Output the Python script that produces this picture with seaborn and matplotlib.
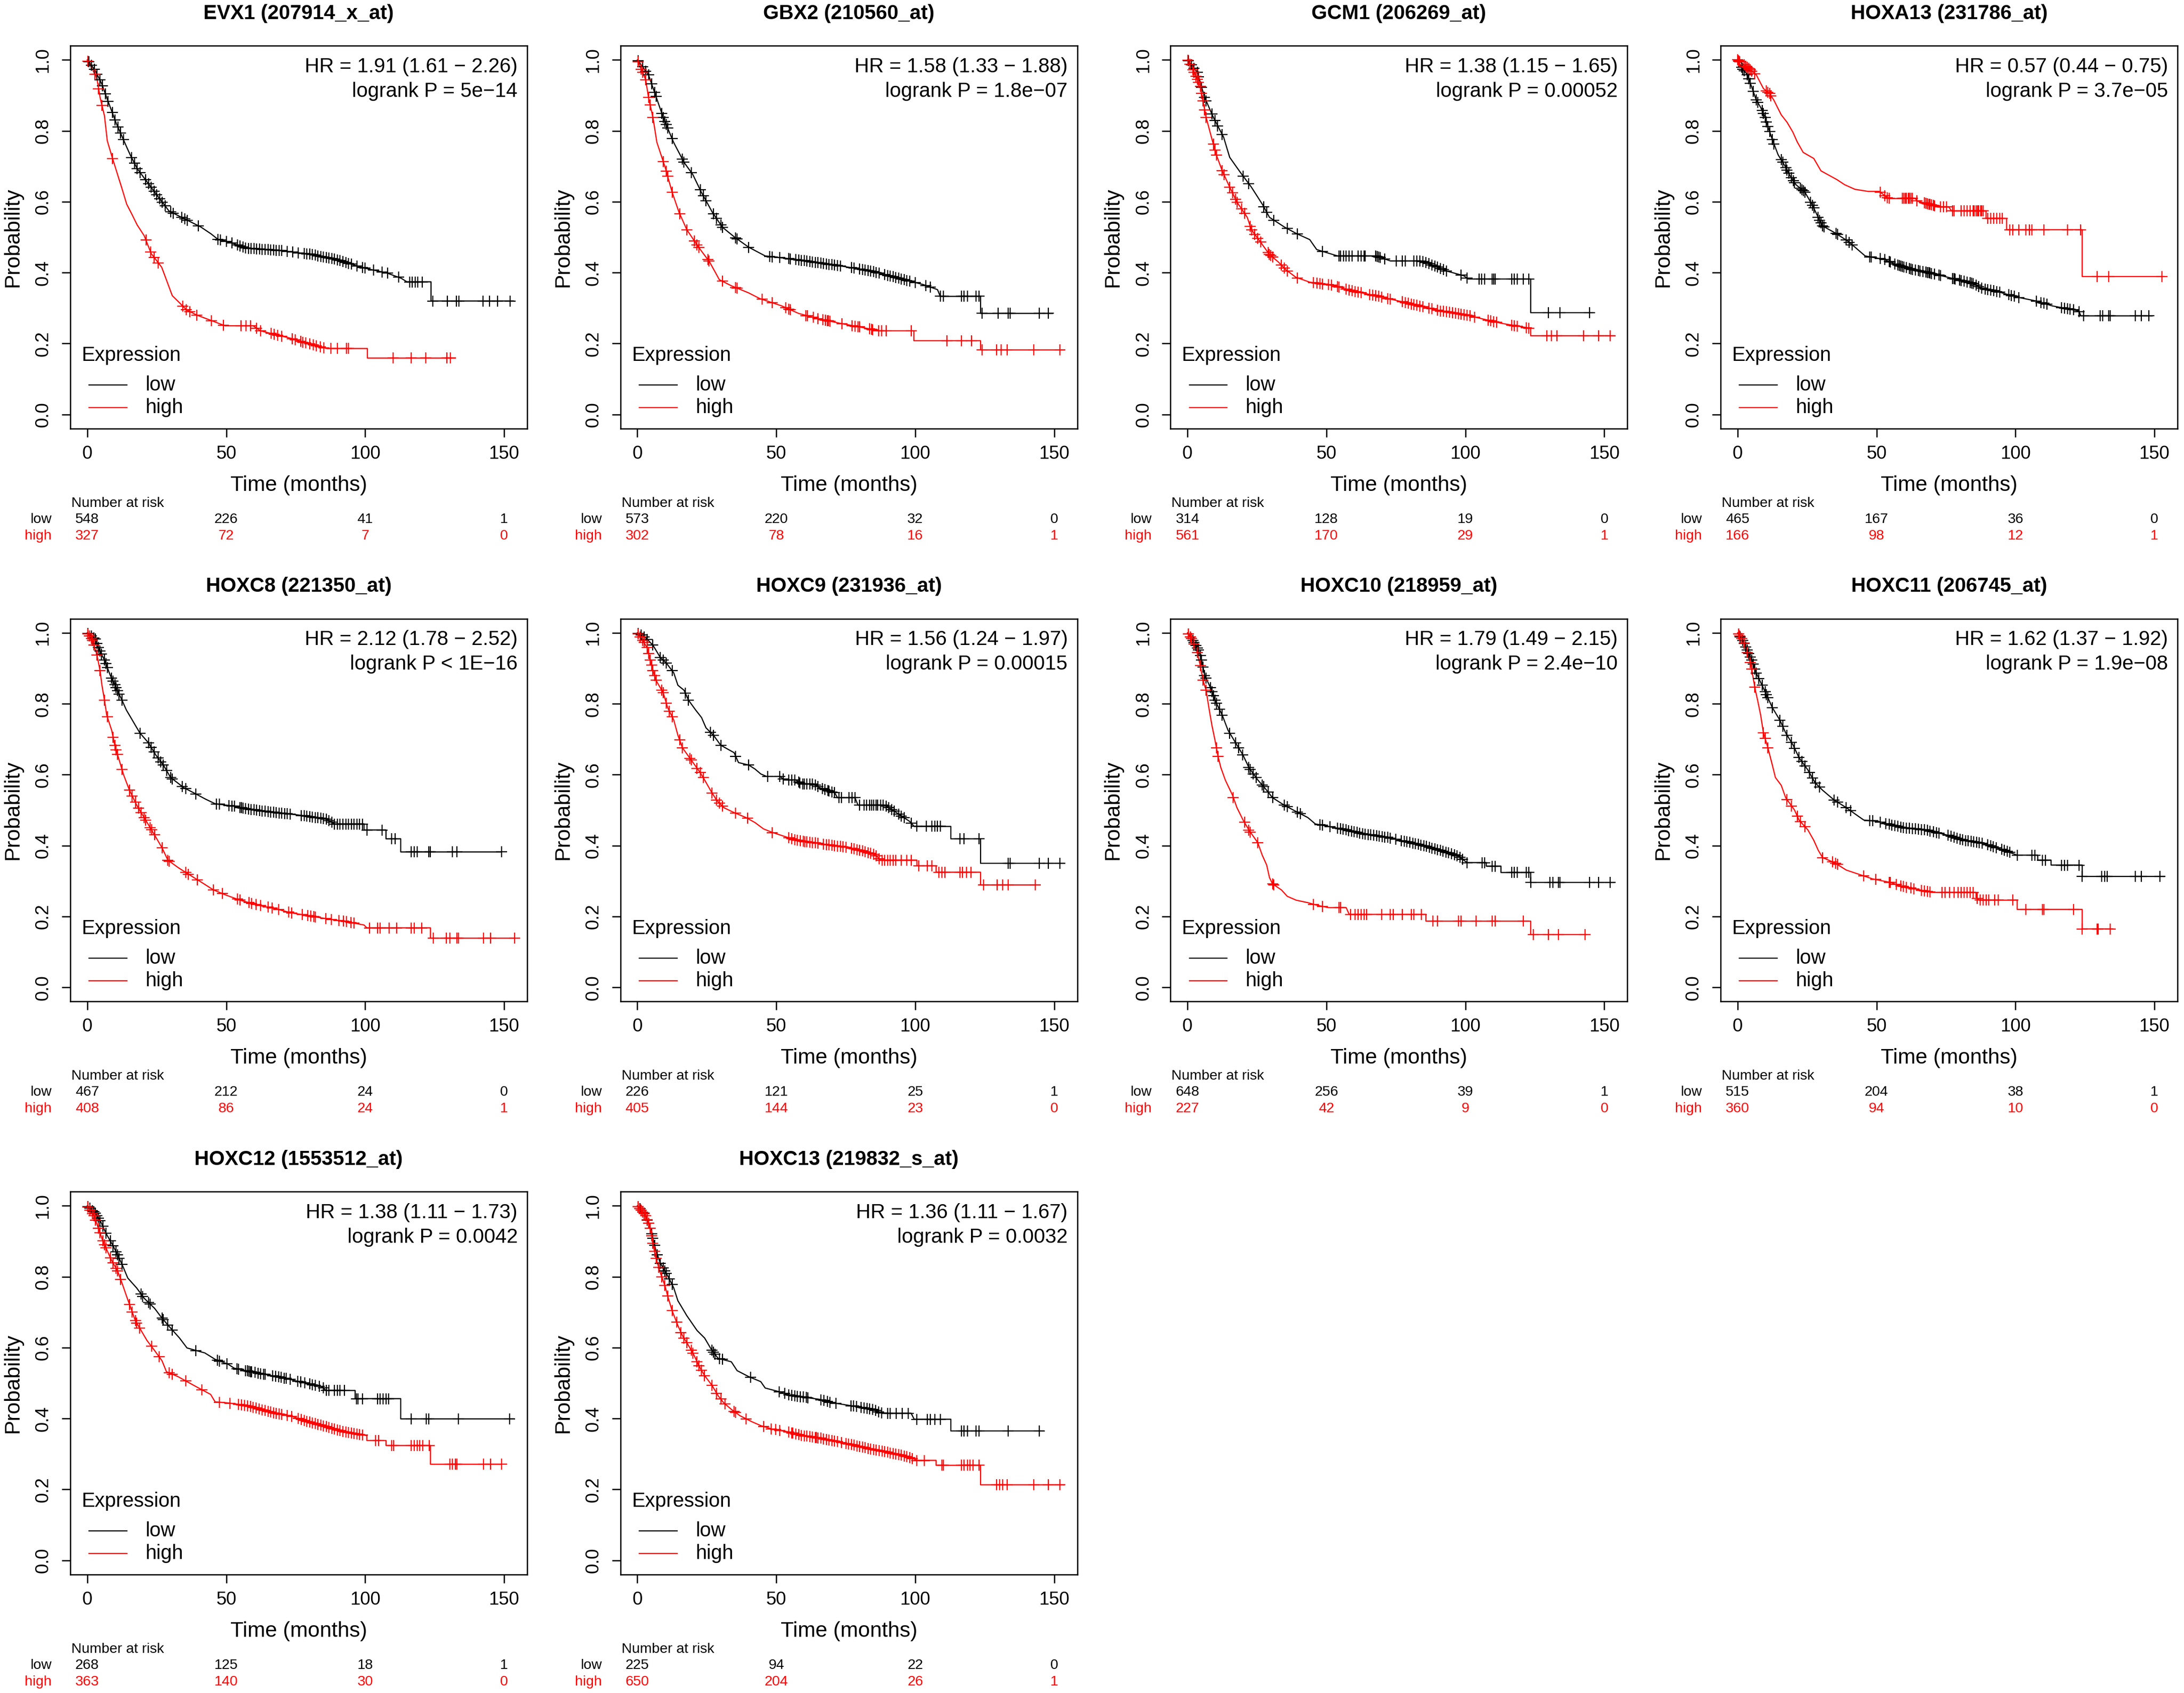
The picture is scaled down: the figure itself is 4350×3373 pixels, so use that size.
import numpy as np
import pandas as pd
import matplotlib
matplotlib.use('Agg')
import matplotlib.pyplot as plt
import seaborn as sns

# ---- panel labels ----
titles = ['EVX1 (207914_x_at)', 'GBX2 (210560_at)', 'GCM1 (206269_at)', 'HOXA13 (231786_at)',
          'HOXC8 (221350_at)', 'HOXC9 (231936_at)', 'HOXC10 (218959_at)', 'HOXC11 (206745_at)',
          'HOXC12 (1553512_at)', 'HOXC13 (219832_s_at)']
hr_texts = ['HR = 1.91 (1.61 \u2212 2.26)', 'HR = 1.58 (1.33 \u2212 1.88)', 'HR = 1.38 (1.15 \u2212 1.65)',
            'HR = 0.57 (0.44 \u2212 0.75)', 'HR = 2.12 (1.78 \u2212 2.52)', 'HR = 1.56 (1.24 \u2212 1.97)',
            'HR = 1.79 (1.49 \u2212 2.15)', 'HR = 1.62 (1.37 \u2212 1.92)', 'HR = 1.38 (1.11 \u2212 1.73)',
            'HR = 1.36 (1.11 \u2212 1.67)']
p_texts = ['logrank P = 5e\u221214', 'logrank P = 1.8e\u221207', 'logrank P = 0.00052',
           'logrank P = 3.7e\u221205', 'logrank P < 1E\u221216', 'logrank P = 0.00015',
           'logrank P = 2.4e\u221210', 'logrank P = 1.9e\u221208', 'logrank P = 0.0042',
           'logrank P = 0.0032']

risk_times = [0, 50, 100, 150]
risk_low = [[548, 226, 41, 1], [573, 220, 32, 0], [314, 128, 19, 0], [465, 167, 36, 0],
            [467, 212, 24, 0], [226, 121, 25, 1], [648, 256, 39, 1], [515, 204, 38, 1],
            [268, 125, 18, 1], [225, 94, 22, 0]]
risk_high = [[327, 72, 7, 0], [302, 78, 16, 1], [561, 170, 29, 1], [166, 98, 12, 1],
             [408, 86, 24, 1], [405, 144, 23, 0], [227, 42, 9, 0], [360, 94, 10, 0],
             [363, 140, 30, 0], [650, 204, 26, 1]]

# ---- survival curves (time in months, probability) and censoring times ----
evx1_low = [(0, 1), (2.8, .971), (5.3, .931), (6.6, .902), (8.5, .862), (10.4, .822), (12.9, .777),
            (15.4, .733), (18, .693), (21.8, .653), (25.6, .613), (29.4, .574), (34.4, .554),
            (40.8, .529), (44.6, .509), (47, .494), (52, .484), (57.2, .469), (69.9, .462),
            (80, .452), (88.9, .439), (99, .414), (107.8, .399), (113, .384), (115, .374),
            (123.7, .374), (123.7, .320), (153.4, .320)]
evx1_low_cens = [0.5, 1.5, 2.5, 3.5, 4.5, 5.5, 6.5, 7.5, 9, 10, 11, 12, 13, 16, 17, 18, 19, 21, 22, 23,
                 24, 25, 26, 27, 28, 30, 31, 34, 35, 36, 40, 47, 48, 50, 52, 54, 55, 56, 57, 58, 59,
                 60, 61, 62, 63, 64, 65, 66, 67, 68, 69, 70, 72, 74, 76, 78, 79, 80, 81, 82, 83, 84,
                 85, 86, 87, 88, 89, 90, 91, 92, 93, 94, 95, 97, 99, 100, 103, 106, 108, 112, 116,
                 117, 118, 119, 120.5, 124.3, 129.6, 132.8, 133.8, 142.4, 144.8, 147.7, 152.2]
evx1_high = [(0, 1), (3.4, .951), (4.7, .891), (6.2, .842), (7.2, .772), (9.1, .722), (12.3, .642),
             (14.2, .593), (16.1, .564), (18, .534), (20.5, .504), (23, .454), (26.8, .415),
             (28.7, .375), (30.6, .335), (33.2, .315), (35.7, .295), (39.5, .280), (44.6, .265),
             (49.6, .250), (59.7, .250), (62.3, .236), (67.3, .226), (73.7, .214), (77.5, .204),
             (82.5, .194), (86.3, .186), (100.8, .186), (100.8, .159), (132.5, .159)]
evx1_high_cens = [0.3, 2.8, 4.1, 5.3, 9.1, 21.1, 22.8, 24.1, 25.6, 34.4, 35.7, 36.9, 39.5, 44.6, 49,
                  55.3, 57.2, 58.7, 61, 62.3, 66.1, 67.3, 68.6, 69.9, 73.7, 74.9, 76.8, 77.5, 78.7,
                  80, 81.3, 82.5, 83.8, 85.1, 87.6, 90.1, 93.3, 93.9, 110, 116.5, 121.8, 129.4, 130.6]

gbx2_low = [(0, 1), (4, .958), (9.3, .838), (13, .768), (16.8, .711), (20, .676), (23, .627),
            (27, .570), (30.6, .528), (35, .500), (40, .472), (46, .447), (57, .437), (73, .419),
            (84, .405), (94, .384), (103, .366), (108, .352), (109, .333), (123.5, .333),
            (123.5, .285), (149.5, .285)]
gbx2_low_cens = [0.3, 1.9, 3.0, 4.0, 5.1, 6.2, 6.7, 8.8, 9.3, 9.9, 10.4, 10.9, 12.5, 16.2, 16.8, 19.4,
                 22.6, 23.7, 24.7, 27.4, 28.5, 30.0, 30.6, 35.4, 35.9, 40.1, 47.6, 48.6, 51.3, 54.5,
                 55.0, 57, 58, 59, 60, 61, 62, 63, 64, 65, 66, 67, 68, 69, 70, 71, 72, 73, 77, 78, 80,
                 81, 82, 83, 84, 85, 86, 87, 89, 90, 91, 92, 93, 94, 95, 96, 97, 98, 100, 103.8,
                 105.4, 109.1, 110.2, 116.6, 117.6, 118.7, 121.9, 122.9, 124, 129.8, 133.5, 134.1,
                 144.7, 147.9]
gbx2_high = [(0, 1), (3, .944), (4, .894), (5.6, .838), (7, .768), (10, .697), (12.5, .627),
             (15, .570), (17.8, .521), (22, .472), (26, .430), (29.5, .380), (33.8, .363),
             (40, .343), (44, .327), (52, .306), (58, .285), (64.5, .271), (73, .257), (80.5, .246),
             (87, .236), (99.5, .236), (99.5, .208), (123.5, .208), (123.5, .182), (153.7, .182)]
gbx2_high_cens = [0.3, 1.4, 1.9, 3.0, 4.0, 4.6, 5.6, 9.3, 10.4, 10.9, 12.5, 15.2, 17.8, 20.5, 21.5,
                  22.1, 25.3, 25.8, 30.6, 35.4, 35.9, 44.9, 48.6, 53.4, 54.5, 55, 60.7, 61.2, 63.3,
                  64.9, 66.7, 67.7, 68.3, 68.8, 69.3, 73.6, 77.3, 78.3, 79.4, 79.9, 83.6, 84.2, 84.7,
                  86.8, 87.9, 89.5, 98.5, 111.3, 116.6, 120.3, 124, 129.3, 130.9, 133, 142.6, 152.1]

gcm1_low = [(0, 1), (3.5, .965), (6.2, .894), (9.3, .838), (13, .782), (15.2, .725), (19, .683),
            (23, .641), (27, .592), (29.5, .556), (35, .528), (39, .511), (44, .493), (46.5, .465),
            (54, .447), (68, .447), (73, .433), (84, .433), (89, .419), (93, .405), (99.5, .391),
            (101, .382), (123.5, .382), (123.5, .287), (146, .287)]
gcm1_low_cens = [0.3, 1.4, 2.4, 3.5, 4.0, 5.1, 6.2, 6.7, 8.8, 9.9, 10.9, 12.5, 20, 22.1, 27.4, 28.5,
                 31.1, 35.9, 39.6, 48.6, 54.5, 55, 56.1, 57.1, 58.2, 59.2, 61.4, 62.4, 63.5, 64, 67.7,
                 68.3, 68.8, 69.3, 70.9, 75.2, 77.3, 78.3, 81.5, 82.6, 83.6, 84.7, 85.8, 86.8, 87.9,
                 89, 90, 91.1, 92.1, 93.2, 98.5, 100.6, 104.9, 105.9, 107, 109.6, 110.2, 110.7,
                 116.6, 117.6, 118.7, 120.8, 122.9, 129.8, 134.1, 144.7]
gcm1_high = [(0, 1), (2.4, .965), (4.6, .926), (5.6, .884), (6.7, .838), (9.1, .768), (10.4, .732),
             (12.5, .687), (15.2, .641), (17.8, .599), (21.5, .556), (23, .521), (26.3, .486),
             (29.5, .451), (32.7, .430), (35.4, .408), (39, .387), (44, .373), (53, .363),
             (59, .349), (67.7, .335), (76, .320), (83.6, .306), (91, .292), (99.5, .282),
             (107, .268), (113, .257), (123.5, .243), (123.5, .222), (153.7, .222)]
gcm1_high_cens = [0.1, 0.8, 1.9, 2.4, 3.0, 3.5, 4.0, 4.6, 5.1, 5.6, 6.2, 6.7, 9.3, 9.9, 10.4, 12.5,
                  13.1, 15.2, 16.2, 17.3, 17.8, 19.4, 20.5, 22.6, 23.1, 24.2, 25.3, 26.3, 29, 29.5,
                  30, 30.6, 33.8, 34.8, 35.9, 39.6, 45.4, 46.5, 47.6, 48.6, 50.7, 51.8, 53.9, 54.5,
                  57.1, 58.2, 59.2, 60.3, 61.4, 62.4, 65.6, 66.7, 67.7, 68.8, 69.8, 72, 73, 77.3, 78.3,
                  79.4, 80.5, 81.5, 82.6, 83.6, 84.7, 86.8, 87.9, 90, 91.1, 92.1, 93.2, 94.3, 95.3,
                  96.4, 97.5, 98.5, 99.6, 100.6, 101.7, 103.3, 108.1, 109.1, 110.2, 111.3, 116.6,
                  117.6, 118.7, 121.9, 122.9, 129.3, 130.9, 133, 142.6, 147.9, 152.1]

hoxa13_low = [(0, 1), (1.4, .979), (3.5, .958), (5.1, .923), (6.7, .887), (8.3, .866), (9.9, .838),
              (11, .810), (12.5, .775), (14.6, .732), (16.8, .704), (18.9, .673), (21, .648),
              (24.2, .627), (26.8, .592), (29, .556), (30.5, .532), (35.3, .511), (39.6, .489),
              (42.2, .472), (45.9, .447), (52.8, .437), (57, .423), (63.4, .408), (69.8, .398),
              (77.2, .384), (84.6, .370), (87.8, .356), (94.2, .345), (100.5, .331), (107.4, .320),
              (113.3, .306), (122.8, .292), (123.5, .278), (149.3, .278)]
hoxa13_low_cens = [0.3, 1.4, 1.9, 2.4, 3.5, 4.0, 4.6, 5.6, 6.7, 7.2, 8.8, 9.3, 9.9, 10.4, 10.9, 11.5,
                   12.5, 13.1, 15.7, 16.2, 17.3, 17.8, 18.4, 19.4, 20, 20.5, 22.6, 23.1, 23.7, 24.2,
                   26.3, 26.9, 27.4, 29, 29.5, 30, 30.6, 31.1, 35.4, 35.9, 39.1, 40.1, 41.2, 47.6,
                   48.1, 51.3, 52.9, 54.5, 55, 56.6, 57.6, 58.2, 58.7, 59.2, 59.8, 60.8, 61.9, 62.4,
                   62.9, 64, 65, 65.6, 66.7, 67.7, 68.3, 68.8, 69.3, 69.8, 70.9, 72.5, 73, 77.3, 77.8,
                   78.3, 79.9, 80.5, 81.5, 82.6, 83.6, 84.2, 84.7, 85.8, 86.8, 87.9, 89, 90, 91.1,
                   92.1, 93.2, 94.3, 97.5, 98.5, 99.6, 101.2, 107.5, 109.1, 110.2, 111.3, 116.6,
                   117.6, 118.7, 119.7, 120.8, 122.9, 124.5, 130.4, 131.4, 133.5, 134.1, 143.1,
                   145.2, 147.9]
hoxa13_high = [(0, 1), (3.5, .979), (6.7, .958), (9.3, .919), (11.5, .905), (13, .887), (15.7, .845),
               (17.8, .824), (19.9, .796), (21.5, .768), (23.6, .739), (27.4, .722), (30, .687),
               (35.8, .662), (38.5, .648), (42.2, .635), (47, .629), (51, .629), (52.8, .618),
               (54.4, .609), (64, .609), (64.5, .602), (69, .593), (72, .585), (76, .585),
               (77, .574), (89.4, .574), (89.4, .553), (96.8, .553), (96.8, .521), (124, .521),
               (124, .389), (153.6, .389)]
hoxa13_high_cens = [0, 0.3, 0.8, 2.4, 3.0, 3.5, 4.0, 4.6, 5.1, 6.2, 10.4, 10.9, 11.5, 12, 51.3, 52.9,
                    53.9, 54.5, 59.2, 59.8, 60.3, 60.8, 61.4, 61.9, 62.4, 62.9, 64.5, 67.2, 67.7,
                    68.3, 68.8, 69.3, 69.8, 70.4, 70.9, 73, 74.1, 75.2, 77.3, 77.8, 80.5, 81.5, 82.6,
                    83.6, 84.7, 85.2, 85.8, 86.3, 86.8, 87.4, 87.9, 88.4, 90, 91.1, 92.1, 93.2, 94.3,
                    95.3, 98, 99, 101.2, 103.8, 104.9, 105.9, 110.2, 118.7, 123.5, 129.3, 133.5,
                    152.7]

hoxc8_low = [(0, 1), (3, .982), (4, .958), (6.2, .923), (8.3, .880), (10.4, .845), (12.5, .810),
             (14.1, .782), (16.2, .754), (18.9, .718), (22, .690), (24.7, .655), (27.4, .627),
             (30, .592), (34.8, .563), (39, .546), (42.3, .532), (46, .518), (52.9, .511),
             (57, .504), (67.7, .493), (76.2, .486), (85.8, .475), (89, .461), (99.6, .461),
             (99.6, .444), (107.5, .444), (107.5, .419), (112.8, .419), (112.8, .382), (149, .382)]
hoxc8_low_cens = [0.3, 1.4, 2.4, 3.0, 3.5, 4.0, 4.6, 5.1, 6.2, 6.7, 7.2, 8.8, 9.3, 9.9, 10.4, 10.9,
                  11.5, 12.5, 19, 22, 23, 24, 25.5, 26.5, 27.4, 28.5, 30, 30.6, 34.2, 35.4, 39.1,
                  46.5, 47.6, 51, 52, 53, 55, 55.5, 56, 57, 58, 59, 60, 61, 62, 63, 64, 65, 66, 67, 68,
                  69, 70, 71, 72, 73, 77, 78, 79, 80, 81, 82, 83, 84, 85, 86, 87, 88, 89, 90, 91, 92,
                  93, 94, 95, 96, 97, 98, 99, 100.6, 106, 109.6, 110.7, 116.6, 117.6, 118.7, 122.9,
                  123.5, 131.4, 133, 149]
hoxc8_high = [(0, 1), (1.9, .979), (3.5, .937), (4.6, .894), (5.3, .852), (6.2, .810), (7, .768),
              (8.8, .725), (9.9, .683), (11.5, .641), (13.1, .599), (15.2, .556), (17.8, .514),
              (21, .472), (24.2, .430), (26.9, .394), (29, .359), (32.7, .338), (36.9, .317),
              (41.2, .296), (45.4, .275), (49.7, .261), (55, .246), (61.4, .232), (67.7, .222),
              (73, .211), (80.5, .201), (85.8, .194), (92, .187), (99.6, .176), (100.6, .168),
              (123.5, .168), (123.5, .139), (153.7, .139)]
hoxc8_high_cens = [0.3, 0.8, 1.4, 1.9, 2.4, 3.5, 4.6, 6.2, 7.2, 9.3, 9.9, 10.4, 10.9, 12.5, 15.2,
                   16.2, 17.3, 18.4, 19.4, 20.5, 21, 22.6, 23.1, 24.2, 26.9, 29, 29.5, 35.4, 36.4,
                   39.6, 45.4, 48.6, 54, 55, 58.2, 59.2, 60.8, 62.4, 65, 66.5, 68.8, 72.5, 73.5, 77.3,
                   79.4, 80.5, 81.5, 82.1, 85.8, 87.9, 90.5, 92.1, 93.2, 94.8, 96, 101.5, 104.4,
                   105.4, 108.6, 111.3, 116.6, 117.6, 120.3, 124.5, 129.3, 130.4, 133, 133.5, 142.6,
                   145.2, 153.7]

hoxc9_low = [(0, 1), (3, .986), (5.6, .965), (8.3, .930), (10.4, .915), (13.1, .887), (14.6, .852),
             (16.8, .838), (18.4, .810), (21, .782), (23.1, .761), (24.7, .732), (27.4, .711),
             (30, .683), (34.8, .662), (36.4, .634), (40.1, .627), (42.3, .616), (44.4, .602),
             (46.5, .595), (51.3, .595), (52.9, .585), (57, .585), (59, .574), (63.5, .574),
             (65.6, .563), (71, .549), (72, .535), (78.3, .535), (79.4, .514), (89, .514),
             (91, .504), (93.2, .493), (95.3, .482), (98, .468), (99.6, .454), (112.8, .454),
             (112.8, .419), (123.5, .419), (123.5, .350), (153.7, .350)]
hoxc9_low_cens = [0.3, 1.4, 2.4, 3.5, 5.6, 8.3, 9.3, 10.4, 12.5, 17.3, 18.4, 26.3, 27.4, 30, 35.4,
                  40.1, 46.8, 51.3, 52.4, 54.5, 55.5, 56.6, 58, 58.5, 59.5, 60, 61, 62, 63, 64, 65,
                  66.5, 67.5, 68.5, 69, 70, 71, 72.5, 73.5, 76.2, 77.3, 78.3, 79.9, 81.5, 82.5, 83.5,
                  84.2, 85, 86, 86.5, 87.5, 88.5, 89.5, 90.5, 91.5, 92.5, 94, 95, 96, 98.5, 100.6,
                  104, 106, 107, 108, 109, 116, 117.6, 122.9, 133.5, 134.1, 144.7, 147.9, 152.1]
hoxc9_high = [(0, 1), (1.9, .979), (3.5, .958), (4.6, .923), (5.6, .894), (6.7, .866), (9.3, .831),
              (10.9, .789), (13.1, .754), (14.6, .711), (16.2, .676), (19.4, .641), (22.6, .606),
              (24.2, .585), (26.3, .556), (28.5, .528), (31.1, .507), (34.8, .493), (39.1, .479),
              (42.3, .465), (45.4, .447), (48.6, .437), (52.9, .426), (57.1, .415), (63.5, .408),
              (69.8, .401), (76.2, .394), (81.5, .384), (85.8, .373), (87.4, .359), (100.6, .359),
              (100.6, .343), (107.5, .343), (107.5, .325), (123.5, .325), (123.5, .289),
              (143.1, .289)]
hoxc9_high_cens = [0.3, 1, 1.9, 2.4, 3.5, 4, 4.6, 5.1, 5.6, 6.2, 6.7, 8.8, 9.3, 10.4, 11.5, 12.5,
                   15.2, 16.2, 18.9, 19.4, 21.5, 22.6, 23.7, 26.9, 28.5, 29.5, 30.6, 35.4, 39.6, 48.6,
                   54.5, 55.5, 56.6, 57.6, 58.7, 59.7, 60.3, 61, 62, 63, 64, 65, 67, 68, 69, 70, 71,
                   72, 73, 74, 75, 77, 78, 79, 80, 81, 82, 83, 84, 85, 86, 87, 88, 89, 90, 91, 92, 93,
                   95, 97, 98.5, 101.2, 104.4, 105.9, 108.5, 109.6, 110.7, 116, 117, 118.5, 120,
                   124.5, 129.5, 131.4, 133.5, 143.1]

hoxc10_low = [(0, 1), (1.9, .979), (4, .951), (5.1, .923), (6.2, .880), (8.3, .845), (9.9, .810),
              (12.5, .768), (14.6, .725), (17.3, .690), (20, .655), (22.1, .620), (25.3, .585),
              (28.5, .556), (30.6, .535), (34.8, .514), (39.1, .496), (43.3, .479), (46, .461),
              (50.7, .454), (57.1, .444), (63.5, .433), (72, .423), (78.3, .412), (85.8, .398),
              (92.1, .384), (97.5, .370), (100.6, .352), (107.5, .352), (107.5, .342),
              (112.8, .342), (112.8, .324), (123.5, .324), (123.5, .296), (153.7, .296)]
hoxc10_low_cens = [0.3, 1, 1.9, 2.4, 3, 3.5, 4, 4.6, 5.1, 5.6, 6.2, 6.7, 8.3, 8.8, 9.3, 9.9, 10.4,
                   11.5, 12.5, 15.2, 17.3, 18.4, 19.9, 22.1, 22.6, 23.7, 24.7, 26.9, 27.4, 29, 30.6,
                   34.8, 35.9, 39.6, 40.7, 47.6, 48.6, 51.3, 54, 55, 56, 57, 58, 59, 60, 61, 62, 63,
                   64, 65, 66, 67, 68, 69, 70, 71, 72, 73, 75, 77, 78, 79, 80, 81, 82, 83, 84, 85, 86,
                   87, 88, 89, 90, 91, 92, 93, 94, 95, 96, 97, 98, 99, 100.6, 106, 107, 109.6, 110.7,
                   116.6, 117.6, 118.7, 121.9, 122.9, 123.5, 130.4, 131.4, 133.5, 134.1, 144.7,
                   147.9, 152.1]
hoxc10_high = [(0, 1), (1.9, .979), (3.5, .944), (4.6, .908), (5.6, .866), (6.7, .838), (7.7, .789),
               (8.8, .739), (9.9, .697), (10.9, .655), (12, .620), (13.6, .585), (16.2, .542),
               (17.8, .507), (20, .472), (22.1, .444), (25.3, .408), (26.9, .373), (28.5, .345),
               (29.5, .310), (30.6, .292), (33.8, .275), (35.9, .257), (39.1, .246), (43.3, .239),
               (46.5, .232), (50.7, .225), (57.1, .225), (58.2, .206), (85.8, .206), (85.8, .187),
               (123.5, .187), (123.5, .149), (143.6, .149)]
hoxc10_high_cens = [0.3, 1, 1.4, 2.4, 3.5, 4.6, 5.6, 6.7, 10.4, 11, 16.5, 20.5, 22.1, 22.6, 25.3, 30.6,
                    31.1, 45.4, 48.6, 54.5, 55, 58.7, 60.3, 61.4, 62.4, 63.5, 64.5, 69.8, 73, 74.1,
                    77.3, 80.5, 81.5, 84.2, 88.4, 90, 97.5, 98.5, 103.8, 109.6, 110.7, 120.8, 124.5,
                    129.8, 133.5, 143.1]

hoxc11_low = [(0, 1), (1.9, .979), (3.5, .951), (5.1, .923), (6.7, .887), (8.8, .852), (10.9, .817),
              (12.5, .789), (15.2, .754), (17.3, .718), (20, .683), (22.1, .648), (25.3, .613),
              (27.9, .577), (30.6, .556), (34.8, .528), (39.1, .507), (42.3, .489), (45.4, .472),
              (50.7, .468), (53.9, .461), (59.2, .451), (67.7, .444), (75.2, .430), (81.5, .415),
              (89, .405), (94.3, .391), (100.6, .373), (108, .373), (108, .359), (112.8, .359),
              (112.8, .345), (124, .345), (124, .313), (153.7, .313)]
hoxc11_low_cens = [0.3, 1, 1.9, 2.4, 3, 3.5, 4, 4.6, 5.1, 5.6, 6.2, 6.7, 7.7, 8.8, 9.9, 10.4, 10.9,
                   12.5, 15.2, 16.2, 17.8, 19.4, 20.5, 22.1, 23.1, 24.2, 25.8, 26.9, 28, 29.5, 34.8,
                   35.9, 39.1, 40.7, 47.6, 48.6, 51.3, 53.4, 54.5, 55.5, 56.6, 57.6, 58.7, 59.7, 60.8,
                   61.9, 62.9, 64, 65, 66.1, 67.2, 68.3, 69.3, 70.4, 71.5, 72.5, 75.7, 76.8, 77.8,
                   78.9, 80, 81, 82, 83, 84, 85, 86, 87, 88, 90, 91, 92, 93, 95, 96, 97, 98, 100.6,
                   105.9, 107, 109.6, 110.7, 116.6, 117.6, 118.7, 122.9, 124, 131, 132, 133, 143.1,
                   145.2, 152]
hoxc11_high = [(0, 1), (2.4, .972), (3.5, .944), (4.9, .908), (5.6, .873), (6.4, .838), (7.2, .810),
               (8.3, .768), (9.3, .718), (10.9, .676), (12.5, .627), (13.6, .592), (15.7, .570),
               (17.3, .535), (20.5, .500), (22.1, .472), (25.3, .444), (27.4, .415), (29, .387),
               (30.6, .366), (34.8, .352), (39.1, .331), (44.4, .317), (48.6, .306), (55, .296),
               (59.2, .285), (65.6, .275), (69.8, .268), (85.8, .268), (85.8, .254), (87, .246),
               (100.6, .246), (100.6, .220), (124, .220), (124, .165), (135.1, .165)]
hoxc11_high_cens = [0.3, 0.8, 1.4, 2.4, 3.5, 4.6, 5.1, 6.2, 9.3, 9.9, 10.9, 17.8, 19.4, 21.5, 22.6,
                    24.2, 30.6, 34.2, 35.2, 35.9, 45.4, 49.7, 54.5, 55, 57.1, 58.7, 59.7, 60.8, 62.4,
                    63.5, 66.1, 67.2, 68.3, 69.3, 73.5, 74.6, 76.2, 77.8, 79.4, 80.5, 81.5, 82.6,
                    83.6, 84.7, 86.2, 87.2, 88.3, 89.4, 90.4, 92.6, 93.7, 99, 103.8, 109.6, 110.2,
                    120.8, 124, 129.3, 129.8, 134.1]

hoxc12_low = [(0, 1), (3, .979), (5.1, .951), (6.7, .923), (9.3, .887), (11.5, .852), (13.1, .824),
              (14.6, .796), (17.8, .768), (20.5, .739), (24.2, .711), (26.9, .683), (30, .655),
              (33.2, .627), (35.9, .599), (42.3, .585), (46, .567), (50.7, .553), (52.9, .542),
              (57.1, .535), (63.5, .525), (71, .514), (76.2, .504), (84.7, .489), (85.8, .479),
              (96.4, .479), (96.4, .456), (112.8, .456), (112.8, .399), (153.7, .399)]
hoxc12_low_cens = [0.3, 1, 1.9, 2.4, 3, 3.5, 4, 4.6, 5.6, 6.7, 8.3, 9.3, 10.4, 10.9, 11.5, 12.5, 19.4,
                   20, 22.1, 22.6, 26.9, 27.4, 29, 30.6, 39.1, 46.8, 47.6, 50.2, 53.9, 54.5, 57, 57.6,
                   58.2, 58.7, 59.2, 60.3, 61.4, 62.4, 63.5, 64, 66.7, 67.7, 68.8, 69.8, 70.9, 71.5,
                   73, 75.7, 76.8, 78.3, 80, 81, 82, 83.5, 85, 86, 87, 89, 90, 91, 92.5, 96.9, 97.5,
                   99, 104.4, 105.4, 106.5, 107.5, 108.5, 116.6, 121.9, 122.9, 133.5, 152]
hoxc12_high = [(0, 1), (2.4, .972), (4, .937), (5.6, .901), (7.2, .873), (8.8, .845), (10.9, .817),
               (12.5, .782), (14.1, .746), (15.7, .711), (17.3, .676), (19.4, .648), (21.5, .620),
               (24.2, .592), (26.9, .563), (28.5, .532), (32.7, .518), (35.9, .504), (40.1, .486),
               (44.4, .468), (46, .447), (50.7, .444), (57.1, .437), (62.4, .426), (67.7, .415),
               (74.1, .405), (79.4, .391), (84.7, .380), (89, .370), (93.2, .361), (100.6, .352),
               (100.6, .338), (107.5, .338), (107.5, .324), (123.5, .324), (123.5, .271),
               (149, .271)]
hoxc12_high_cens = [0.3, 1, 1.9, 2.4, 3, 4, 4.6, 5.6, 6.2, 6.7, 8.3, 9.3, 10.4, 10.9, 12, 15.2, 16.2,
                    17.3, 17.8, 18.9, 23.1, 25.8, 29.5, 30.6, 35.4, 41.2, 47.6, 51.3, 54.5, 55.5,
                    56.6, 57.6, 58.7, 59.7, 60.8, 61.9, 63, 64, 65, 66, 67, 68, 69, 70, 72, 73.5, 76,
                    77, 78, 79, 80, 81, 82, 83, 84, 85, 86, 87, 88, 89, 90, 91, 92, 93, 94, 95, 96, 97,
                    98, 99, 103.8, 104.9, 109.6, 110.2, 116.6, 117.6, 118.7, 119.7, 120.8, 123,
                    130.4, 131.4, 132.5, 133, 142.6, 145.2, 149]

hoxc13_low = [(0, 1), (2.4, .979), (4, .951), (5.6, .908), (6.7, .873), (8.3, .838), (10.9, .803),
              (13.1, .768), (14.6, .732), (17.8, .690), (21.5, .648), (24.2, .627), (26.3, .599),
              (29, .570), (33.8, .560), (35.9, .535), (40.1, .518), (44.4, .504), (46, .486),
              (51.3, .475), (53.9, .468), (59.2, .461), (65.6, .454), (69.8, .445), (76.2, .437),
              (84.7, .426), (88, .415), (98.5, .415), (99.6, .398), (112.8, .398), (112.8, .365),
              (146.3, .365)]
hoxc13_low_cens = [0.3, 1, 2.4, 3.5, 4, 5.1, 5.6, 6.2, 7.2, 8.3, 9.3, 9.9, 10.4, 11.5, 12.5, 26.9,
                   27.4, 28, 29.5, 30.6, 40.7, 51, 53, 54.5, 55.5, 56.6, 57.6, 58.7, 59.7, 60.8, 61.4,
                   66.1, 67.2, 68.3, 69.3, 71.5, 76.8, 77.8, 78.9, 80.5, 81.5, 82.6, 83.6, 84.7, 85.8,
                   86.8, 87.9, 90, 91, 93.2, 95.3, 97.5, 100.6, 104.4, 105.4, 107, 109.1, 116.6,
                   117.6, 118.7, 121.9, 122.9, 133.5, 144.7]
hoxc13_high = [(0, 1), (3, .972), (4.6, .937), (5.6, .894), (6.7, .852), (8.3, .810), (9.9, .775),
               (10.9, .746), (12.5, .704), (14.6, .662), (16.2, .634), (18.4, .606), (20.5, .577),
               (22.1, .549), (24.2, .521), (26.9, .493), (29, .465), (31.1, .444), (33.8, .426),
               (36.9, .408), (41.2, .391), (44.4, .380), (48.6, .370), (53.9, .363), (59.2, .352),
               (65.6, .345), (72, .335), (78.3, .324), (84.7, .313), (91.1, .303), (97.5, .292),
               (100.6, .282), (107.5, .282), (107.5, .268), (123.5, .268), (123.5, .213),
               (153.7, .213)]
hoxc13_high_cens = [0.3, 0.8, 1.4, 1.9, 2.4, 3, 3.5, 4, 4.6, 5.1, 5.6, 6.2, 6.7, 7.7, 8.8, 9.9, 10.9,
                    12.5, 14.1, 15.7, 16.8, 17.8, 19.4, 20, 21.5, 22.1, 23.1, 24.2, 26.9, 28.5, 30,
                    31.6, 34.8, 35.4, 39.1, 45.4, 48.1, 49.7, 51.3, 54.5, 55.5, 56, 57, 58, 59, 60, 61,
                    62, 63, 64, 64.5, 65, 66, 67, 68, 69, 70, 71, 72, 73.5, 75, 76, 77, 78, 79, 80, 81,
                    82, 83, 84, 85, 86, 87, 88, 89, 90, 91, 92, 93, 94, 95, 96, 97, 98, 99, 100.6,
                    103.3, 109.6, 110.2, 116.6, 117.6, 118.7, 119.7, 120.8, 123, 129.3, 130.4, 131.4,
                    133, 142.6, 147.9, 152.1]

curves = [
    (evx1_low, evx1_low_cens, evx1_high, evx1_high_cens),
    (gbx2_low, gbx2_low_cens, gbx2_high, gbx2_high_cens),
    (gcm1_low, gcm1_low_cens, gcm1_high, gcm1_high_cens),
    (hoxa13_low, hoxa13_low_cens, hoxa13_high, hoxa13_high_cens),
    (hoxc8_low, hoxc8_low_cens, hoxc8_high, hoxc8_high_cens),
    (hoxc9_low, hoxc9_low_cens, hoxc9_high, hoxc9_high_cens),
    (hoxc10_low, hoxc10_low_cens, hoxc10_high, hoxc10_high_cens),
    (hoxc11_low, hoxc11_low_cens, hoxc11_high, hoxc11_high_cens),
    (hoxc12_low, hoxc12_low_cens, hoxc12_high, hoxc12_high_cens),
    (hoxc13_low, hoxc13_low_cens, hoxc13_high, hoxc13_high_cens),
]

RED = '#FF0000'
BLACK = '#000000'

sns.set_theme(style='ticks', rc={'axes.edgecolor': 'black', 'xtick.color': 'black',
                                 'ytick.color': 'black', 'text.color': 'black',
                                 'axes.labelcolor': 'black', 'axes.linewidth': 0.6})
plt.rcParams['font.family'] = ['Liberation Sans', 'DejaVu Sans']


def draw_km(ax, pts, cens, color):
    df = pd.DataFrame(pts, columns=['time', 'surv'])
    sns.lineplot(data=df, x='time', y='surv', ax=ax, color=color, linewidth=0.55,
                 estimator=None, sort=False, legend=False)
    c = np.array(cens, dtype=float)
    yc = np.interp(c, df['time'].values, df['surv'].values)
    sns.scatterplot(x=c, y=yc, ax=ax, marker='+', s=30, color=color, linewidth=0.55,
                    legend=False, zorder=3)


W, H = 4350, 3373
fig = plt.figure(figsize=(W / 300, H / 300), dpi=300)

for i in range(len(titles)):
    r, c = divmod(i, 4)
    left = (140 + c * 1095.7) / W
    bottom = 1 - (854 + r * 1141.5) / H
    ax = fig.add_axes([left, bottom, 910 / W, 763 / H])

    low, low_c, high, high_c = curves[i]
    draw_km(ax, low, low_c, BLACK)
    draw_km(ax, high, high_c, RED)

    ax.set_xlim(-6.1, 158.3)
    ax.set_ylim(-0.04, 1.04)
    ax.set_xticks(risk_times)
    ax.set_yticks([0, 0.2, 0.4, 0.6, 0.8, 1.0])
    ax.set_yticklabels(['0.0', '0.2', '0.4', '0.6', '0.8', '1.0'])
    ax.tick_params(direction='out', length=4.1, width=0.6, labelsize=8.8)
    ax.tick_params(axis='x', pad=3.8)
    ax.tick_params(axis='y', pad=4.6, labelrotation=90)
    for lab in ax.get_yticklabels():
        lab.set_va('center')
    for sp in ax.spines.values():
        sp.set_visible(True)
        sp.set_linewidth(0.6)

    ax.set_xlabel('Time (months)', fontsize=10.2)
    ax.xaxis.set_label_coords(0.5, -0.148)
    ax.xaxis.label.set_va('center')
    ax.set_ylabel('Probability', fontsize=10.2)
    ax.yaxis.set_label_coords(-0.126, 0.5)
    ax.yaxis.label.set_va('center')

    ax.text(0.5, 1.084, titles[i], transform=ax.transAxes, ha='center', va='center',
            fontsize=9.7, fontweight='bold')
    ax.text(0.979, 0.945, hr_texts[i], transform=ax.transAxes, ha='right', va='center',
            fontsize=9.7)
    ax.text(0.979, 0.881, p_texts[i], transform=ax.transAxes, ha='right', va='center',
            fontsize=9.7)

    # legend
    ax.text(0.025, 0.191, 'Expression', transform=ax.transAxes, ha='left', va='center',
            fontsize=9.6)
    ax.plot([0.041, 0.124], [0.114, 0.114], transform=ax.transAxes, color=BLACK, lw=0.55)
    ax.plot([0.041, 0.124], [0.055, 0.055], transform=ax.transAxes, color=RED, lw=0.55)
    ax.text(0.164, 0.114, 'low', transform=ax.transAxes, ha='left', va='center', fontsize=9.6)
    ax.text(0.164, 0.055, 'high', transform=ax.transAxes, ha='left', va='center', fontsize=9.6)

    # number at risk table
    ax.text(0.002, -0.195, 'Number at risk', transform=ax.transAxes, ha='left', va='center',
            fontsize=6.8)
    ax.text(-0.041, -0.237, 'low', transform=ax.transAxes, ha='right', va='center',
            fontsize=6.8, color=BLACK)
    ax.text(-0.041, -0.280, 'high', transform=ax.transAxes, ha='right', va='center',
            fontsize=6.8, color=RED)
    xt = ax.get_xaxis_transform()
    for t, nl, nh in zip(risk_times, risk_low[i], risk_high[i]):
        ax.text(t, -0.237, str(nl), transform=xt, ha='center', va='center', fontsize=6.8,
                color=BLACK)
        ax.text(t, -0.280, str(nh), transform=xt, ha='center', va='center', fontsize=6.8,
                color=RED)

fig.savefig('out.png', dpi=300, facecolor='white')
